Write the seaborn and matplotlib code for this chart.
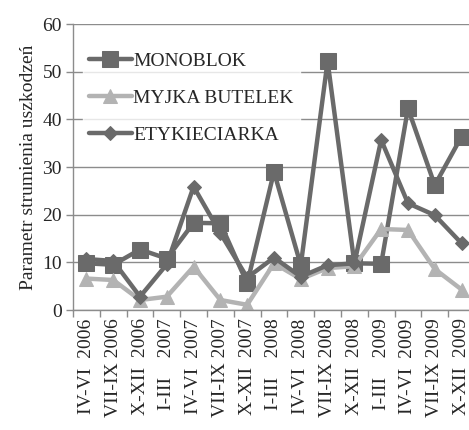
import matplotlib
matplotlib.use("Agg")
import matplotlib.pyplot as plt
import seaborn as sns
import pandas as pd
import numpy as np

categories = ["IV-VI  2006", "VII-IX 2006", "X-XII  2006", "I-III    2007", "IV-VI  2007",
              "VII-IX 2007", "X-XII  2007", "I-III    2008", "IV-VI  2008", "VII-IX 2008",
              "X-XII  2008", "I-III    2009", "IV-VI  2009", "VII-IX 2009", "X-XII  2009"]
monoblok = [9.8, 9.5, 12.7, 10.8, 18.3, 18.2, 5.6, 29.0, 9.4, 52.2, 9.8, 9.7, 42.3, 26.2, 36.4]
myjka = [6.6, 6.3, 2.1, 2.8, 9.1, 2.1, 1.1, 9.8, 6.5, 8.8, 9.2, 17.0, 16.8, 8.6, 4.3]
etykieciarka = [10.7, 10.3, 2.8, 9.6, 25.9, 16.1, 6.8, 11.0, 7.0, 9.4, 9.8, 35.7, 22.4, 19.9, 14.0]

series_names = ["MONOBLOK", "MYJKA BUTELEK", "ETYKIECIARKA"]
series_vals = [monoblok, myjka, etykieciarka]

sns.set_theme(style="white")
plt.rcParams['font.family'] = ['Liberation Serif', 'DejaVu Serif']
FONT = 'Liberation Serif'

fig = plt.figure(figsize=(4.69, 4.30), dpi=100)
ax = fig.add_axes([0.1557, 0.279, 0.857, 0.665])

colors = ["#6a6a6a", "#b3b3b3", "#6a6a6a"]
markers = ["s", "^", "D"]
msizes = [11, 10, 7]
x = np.arange(len(categories))
for name, vals, c, m, ms in zip(series_names, series_vals, colors, markers, msizes):
    df = pd.DataFrame({"x": x, "y": vals})
    sns.lineplot(data=df, x="x", y="y", ax=ax, color=c, lw=3.2, marker=m,
                 markersize=ms, markeredgecolor=c, markerfacecolor=c, label=name)

ax.set_xlim(-0.5, len(categories) - 0.5)
ax.set_ylim(0, 60)
ax.set_yticks(range(0, 61, 10))
ax.yaxis.grid(True, color="#8c8c8c", lw=1)
ax.set_axisbelow(True)
ax.set_xticks(x)
ax.set_xticklabels(categories, rotation=90, fontsize=14, family=FONT)
for lab in ax.get_yticklabels():
    lab.set_family(FONT)
ax.set_xticks(np.arange(-0.5, len(categories), 1), minor=True)
ax.tick_params(axis="x", which="major", length=0, pad=6)
ax.tick_params(axis="x", which="minor", length=5, width=1, color="#8c8c8c", direction="out", bottom=True)
ax.tick_params(axis="y", length=5, width=1, color="#8c8c8c", direction="out", left=True, labelsize=14, pad=3)
for s in ["top", "right"]:
    ax.spines[s].set_visible(False)
for s in ["left", "bottom"]:
    ax.spines[s].set_color("#8c8c8c")
    ax.spines[s].set_linewidth(1)
ax.set_xlabel("")
ax.set_ylabel("Parametr strumienia uszkodzeń", fontsize=14, family=FONT, labelpad=4)

leg = ax.legend(loc="upper left", bbox_to_anchor=(0.0, 0.955), frameon=True,
                prop={"family": FONT, "size": 14},
                labelspacing=1.0, handlelength=2.25, handletextpad=0.05, borderpad=0.3,
                fancybox=False)
leg.get_frame().set_facecolor("white")
leg.get_frame().set_edgecolor("white")

fig.savefig("out.png", dpi=100)
